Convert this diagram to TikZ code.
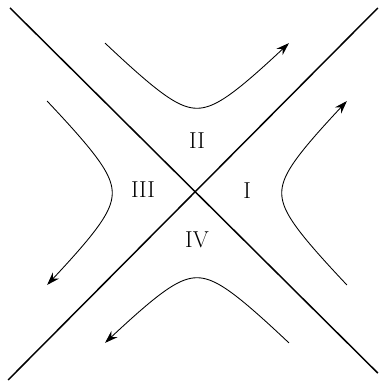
\documentclass[tikz,border=0pt]{standalone}
\usetikzlibrary{arrows.meta}
\tikzset{
  axis/.style={line width=1.1pt, draw=black},
  flow/.style={-{Stealth[length=3.4mm, width=2.3mm]}, line width=0.65pt, draw=black, samples=80, smooth},
  region/.style={font=\LARGE, inner sep=0pt}
}
\newcommand{\hyp}[1]{(1.38+sqrt(0.7225+(#1)*(#1)))}

\begin{document}
\begin{tikzpicture}
\useasboundingbox (-5.184,-5.0) rectangle (4.816,5.079);
% asymptotes
\coordinate (nw) at (-4.92,4.87);
\coordinate (se) at (4.76,-4.74);
\coordinate (sw) at (-4.97,-4.92);
\coordinate (ne) at (4.76,4.87);
\draw[axis] (nw) -- (se);
\draw[axis] (sw) -- (ne);
% flow lines
\draw[flow] plot[domain=-2.42:2.42] (\x, {\hyp{\x}});
\draw[flow] plot[domain=-2.42:2.42] ({\hyp{\x}}, \x);
\draw[flow] plot[domain=2.42:-2.42] (\x, {-\hyp{\x}});
\draw[flow] plot[domain=2.42:-2.42] ({-\hyp{\x}}, \x);
% labels
\node[region] (r1) at (1.32,0.05) {I};
\node[region] (r2) at (0,1.39) {II};
\node[region] (r3) at (-1.42,0.08) {III};
\node[region] (r4) at (0,-1.24) {IV};
\end{tikzpicture}
\end{document}
